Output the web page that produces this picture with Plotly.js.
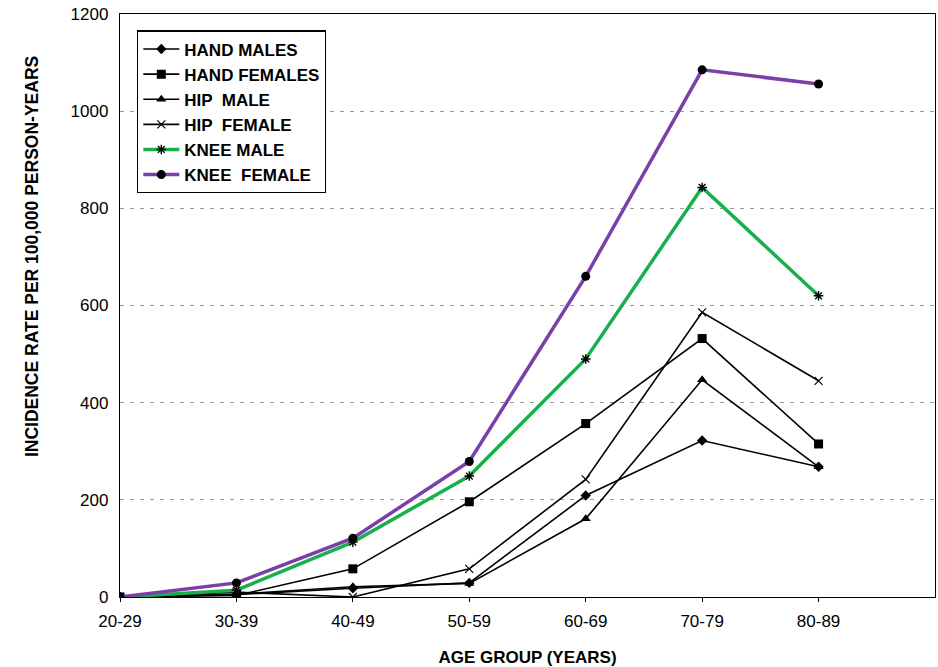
<!DOCTYPE html>
<html>
<head>
<meta charset="utf-8">
<script src="https://cdn.plot.ly/plotly-3.0.1.min.js"></script>
<style>
  html, body { margin: 0; padding: 0; background: #fff; }
  #chart { width: 938px; height: 667px; }
</style>
</head>
<body>
<div id="chart"></div>
<script>
// Age groups on the horizontal axis
const ageGroups = ['20-29', '30-39', '40-49', '50-59', '60-69', '70-79', '80-89'];

// Incidence rate per 100,000 person-years, by site and sex
const handMales    = [0, 5, 18, 29, 209, 322, 268];
const handFemales  = [0, 3, 58, 196, 357, 532, 315];
const hipMale      = [0, 6, 21, 28, 161, 447, 268];
const hipFemale    = [0, 10, 0, 58, 242, 586, 445];
const kneeMale     = [0, 14, 113, 249, 490, 843, 620];
const kneeFemale   = [0, 29, 121, 279, 660, 1085, 1056];

const xIdx = ageGroups.map((_, i) => i);

function series(name, y, symbol, opts) {
  opts = opts || {};
  return {
    type: 'scatter',
    mode: 'lines+markers',
    name: name,
    x: xIdx,
    y: y,
    line: { color: opts.lineColor || '#000', width: opts.lineWidth || 1.6 },
    marker: {
      symbol: symbol,
      size: opts.size || 8,
      color: '#000',
      line: { color: '#000', width: opts.markerLine || 0 }
    }
  };
}

const traces = [
  series('HAND MALES', handMales, 'diamond', { size: 8 }),
  series('HAND FEMALES', handFemales, 'square', { size: 9 }),
  series('HIP  MALE', hipMale, 'triangle-up', { size: 9 }),
  series('HIP  FEMALE', hipFemale, 'x-thin-open', { size: 8, markerLine: 1.2 }),
  series('KNEE MALE', kneeMale, 'asterisk-open', { size: 8, markerLine: 1.4, lineColor: '#18b04a', lineWidth: 3.5 }),
  series('KNEE  FEMALE', kneeFemale, 'circle', { size: 9, lineColor: '#7b3fa8', lineWidth: 3.5 })
];

const FONT = 'Liberation Sans, Arial, sans-serif';
const tickFont = { family: FONT, size: 17, color: '#000' };

const layout = {
  width: 938,
  height: 667,
  margin: { l: 120, r: 3, t: 14, b: 70 },
  paper_bgcolor: '#fff',
  plot_bgcolor: '#fff',
  showlegend: true,
  legend: {
    x: 0.021, y: 0.972, xanchor: 'left', yanchor: 'top',
    bgcolor: '#fff',
    bordercolor: '#000',
    borderwidth: 1.2,
    font: { family: FONT, size: 17, color: '#000', weight: 'bold' },
    tracegroupgap: 0,
    itemwidth: 36
  },
  xaxis: {
    range: [0, 7],
    tickvals: xIdx,
    ticktext: ageGroups,
    ticks: 'outside',
    ticklen: 4,
    tickcolor: '#000',
    showgrid: false,
    zeroline: false,
    showline: true,
    linecolor: '#000',
    linewidth: 1.2,
    mirror: true,
    tickfont: tickFont,
    ticklabelstandoff: 4,
    title: {
      text: '<b>AGE GROUP (YEARS)</b>',
      font: { family: FONT, size: 17, color: '#000' },
      standoff: 26
    }
  },
  yaxis: {
    range: [0, 1200],
    tickvals: [0, 200, 400, 600, 800, 1000, 1200],
    ticks: '',
    showgrid: true,
    gridcolor: '#9a9a9a',
    griddash: '4px,6px',
    gridwidth: 1,
    zeroline: false,
    showline: true,
    linecolor: '#000',
    linewidth: 1.2,
    mirror: true,
    tickfont: tickFont,
    ticklabelstandoff: 7
  },
  annotations: [{
    text: '<b>INCIDENCE RATE PER 100,000 PERSON-YEARS</b>',
    font: { family: FONT, size: 17.5, color: '#000' },
    textangle: -90,
    xref: 'paper', yref: 'paper',
    x: 0, y: 0.583,
    xanchor: 'center', yanchor: 'middle',
    xshift: -88,
    showarrow: false
  }]
};

Plotly.newPlot('chart', traces, layout, { displayModeBar: false, staticPlot: true });
</script>
</body>
</html>
